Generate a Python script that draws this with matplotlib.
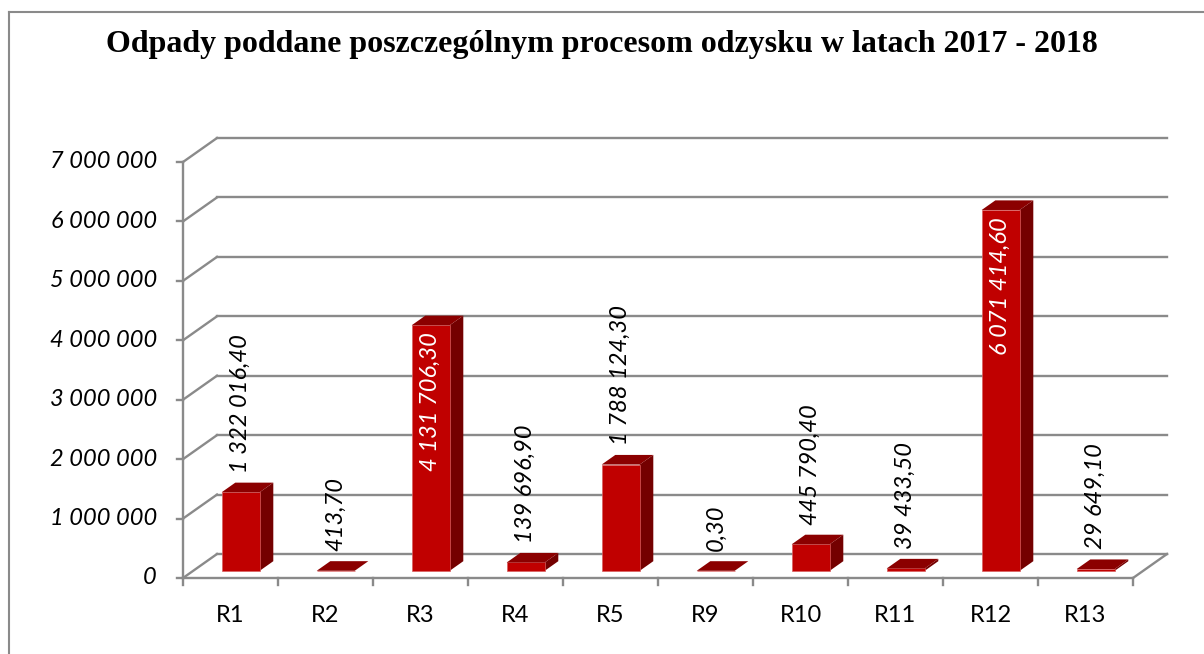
import matplotlib
matplotlib.use("Agg")
import matplotlib.pyplot as plt
from matplotlib.patches import Polygon
from matplotlib.lines import Line2D

title = "Odpady poddane poszczególnym procesom odzysku w latach 2017 - 2018"
categories = ["R1", "R2", "R3", "R4", "R5", "R9", "R10", "R11", "R12", "R13"]
values = [1322016.40, 413.70, 4131706.30, 139696.90, 1788124.30,
          0.30, 445790.40, 39433.50, 6071414.60, 29649.10]
y_ticks = [0, 1000000, 2000000, 3000000, 4000000, 5000000, 6000000, 7000000]

W, H = 1204, 654
PT = 72 / 100  # points per pixel

# fake 3d depth: full depth offset in data units
DX = 34 / 95
DY = 24 / 59.43 * 1e6
d0, d1 = 0.3, 0.7       # bar depth range
half_w = 0.2            # half bar width

grid_c = "#8a8a8a"
front_c = "#c00000"
top_c = "#8b0000"
side_c = "#740000"
fs = 17

fig = plt.figure(figsize=(W / 100, H / 100), dpi=100)
ax = fig.add_axes([183 / W, 76 / H, 950 / W, 416 / H])
ax.set_xlim(-0.5, len(categories) - 0.5)
ax.set_ylim(0, 7000000)
ax.axis("off")

xl, xr = -0.5, len(categories) - 0.5

# walls and gridlines
for v in y_ticks:
    ax.plot([xl + DX, xr + DX], [v + DY, v + DY], color=grid_c, lw=1.7, clip_on=False, zorder=1)
    ax.plot([xl, xl + DX], [v, v + DY], color=grid_c, lw=1.7, clip_on=False, zorder=1)
    ax.plot([xl - 6 / 95, xl], [v, v], color=grid_c, lw=1.7, clip_on=False, zorder=1)
    ax.annotate(f"{v:,}".replace(",", " "), xy=(xl, v), xytext=(-26 * PT, 0),
                textcoords="offset points", ha="right", va="center",
                fontsize=fs, fontstyle="italic", fontfamily="Lato",
                annotation_clip=False)
ax.plot([xl, xl], [0, y_ticks[-1]], color=grid_c, lw=1.7, clip_on=False, zorder=1)
ax.plot([xl, xr], [0, 0], color=grid_c, lw=1.7, clip_on=False, zorder=1)
ax.plot([xr, xr + DX], [0, DY], color=grid_c, lw=1.7, clip_on=False, zorder=1)
for k in range(len(categories) + 1):
    ax.plot([xl + k, xl + k], [0, -7 / 59.43 * 1e6], color=grid_c, lw=1.7, clip_on=False, zorder=1)

# bars
for i, (cat, v) in enumerate(zip(categories, values)):
    x0, x1 = i - half_w, i + half_w
    front = [(x0 + d0 * DX, d0 * DY), (x1 + d0 * DX, d0 * DY),
             (x1 + d0 * DX, v + d0 * DY), (x0 + d0 * DX, v + d0 * DY)]
    side = [(x1 + d0 * DX, d0 * DY), (x1 + d1 * DX, d1 * DY),
            (x1 + d1 * DX, v + d1 * DY), (x1 + d0 * DX, v + d0 * DY)]
    top = [(x0 + d0 * DX, v + d0 * DY), (x1 + d0 * DX, v + d0 * DY),
           (x1 + d1 * DX, v + d1 * DY), (x0 + d1 * DX, v + d1 * DY)]
    ax.add_patch(Polygon(side, closed=True, fc=side_c, ec="none", zorder=3, clip_on=False))
    ax.add_patch(Polygon(front, closed=True, fc=front_c, ec="#d86060", lw=0.5, zorder=3, clip_on=False))
    ax.add_patch(Polygon(top, closed=True, fc=top_c, ec="none", zorder=3, clip_on=False))

    txt = f"{v:,.2f}".replace(",", " ").replace(".", ",")
    lx = i + d0 * DX
    if v > 3000000:
        ax.annotate(txt, xy=(lx, v + d0 * DY), xytext=(0, -7 * PT), textcoords="offset points",
                    rotation=90, ha="center", va="top", color="white",
                    fontsize=fs, fontstyle="italic", fontfamily="Lato", zorder=5)
    else:
        ax.annotate(txt, xy=(lx, v + d1 * DY), xytext=(0, 10 * PT), textcoords="offset points",
                    rotation=90, ha="center", va="bottom", color="black",
                    fontsize=fs, fontstyle="italic", fontfamily="Lato", zorder=5)

    ax.annotate(cat, xy=(i, 0), xytext=(0, -44 * PT), textcoords="offset points",
                ha="center", va="baseline", fontsize=fs, fontfamily="Lato",
                annotation_clip=False)

fig.text(0.5, 1 - 52 / H, title, ha="center", va="baseline",
         fontfamily="Liberation Serif", fontweight="bold", fontsize=23)

# chart frame (left and top edges visible)
fig.add_artist(Line2D([9 / W, 9 / W], [0, 1 - 12 / H], transform=fig.transFigure, color="#8a8a8a", lw=1.5))
fig.add_artist(Line2D([9 / W, 1], [1 - 12 / H, 1 - 12 / H], transform=fig.transFigure, color="#8a8a8a", lw=1.5))

fig.savefig("out.png", dpi=100)
